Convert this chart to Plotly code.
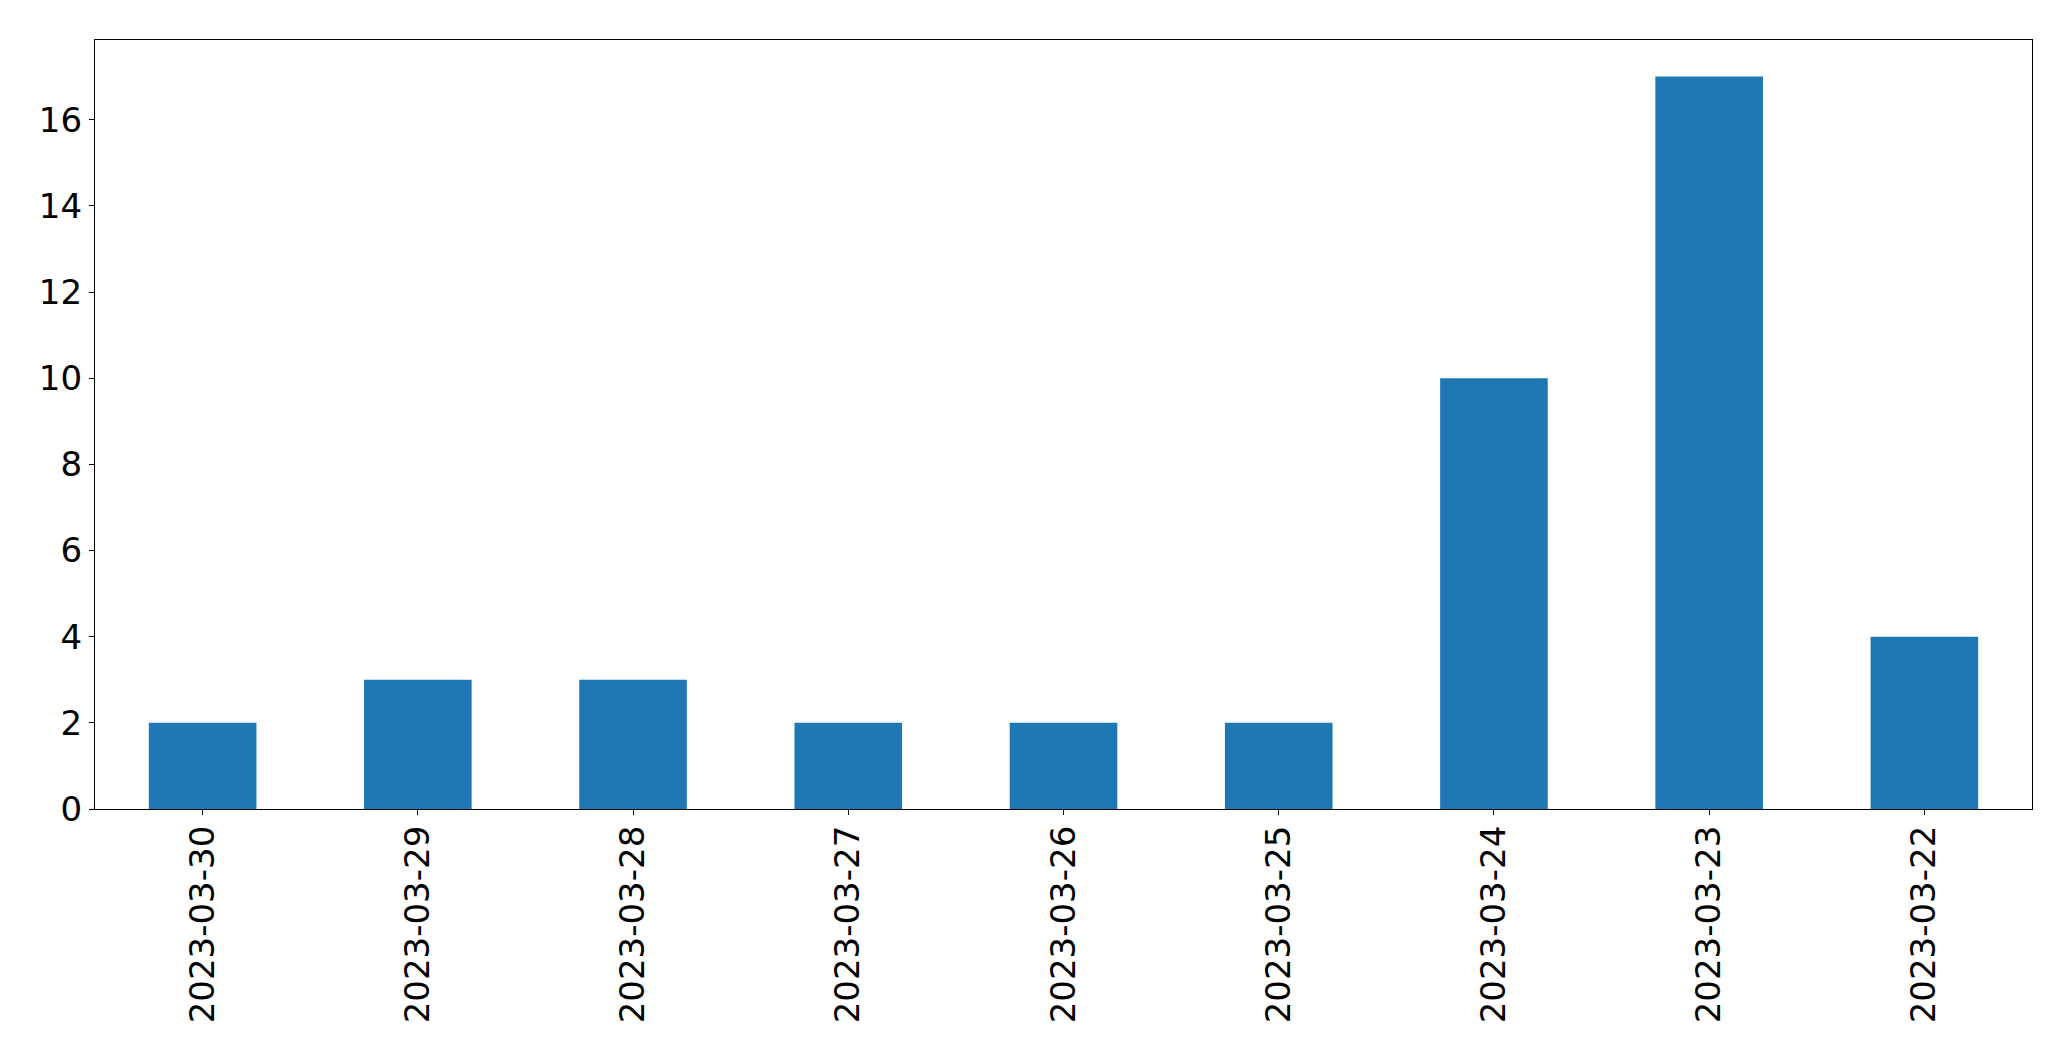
import plotly.graph_objects as go

dates = ["2023-03-30", "2023-03-29", "2023-03-28", "2023-03-27", "2023-03-26",
         "2023-03-25", "2023-03-24", "2023-03-23", "2023-03-22"]
counts = [2, 3, 3, 2, 2, 2, 10, 17, 4]
y_ticks = [0, 2, 4, 6, 8, 10, 12, 14, 16]

fig = go.Figure(go.Bar(x=dates, y=counts, marker=dict(color="#1f77b4", line=dict(width=0))))

fig.update_layout(
    width=2063, height=1053,
    margin=dict(l=87, r=39, t=32, b=252, pad=0),
    paper_bgcolor="white", plot_bgcolor="white",
    bargap=0.5,
    showlegend=False,
    font=dict(family="DejaVu Sans", size=34, color="black"),
)
fig.update_xaxes(
    type="category", categoryorder="array", categoryarray=dates,
    range=[-0.5, len(dates) - 0.5],
    tickangle=-90, ticks="outside", ticklen=5, tickwidth=1.3, tickcolor="black",
    showline=True, linecolor="black", linewidth=1.3, mirror=True,
    showgrid=False, zeroline=False, tickfont=dict(size=34),
    ticklabelstandoff=-3,
)
fig.update_yaxes(
    range=[0, 17.85], tickvals=y_ticks, ticktext=[str(v) for v in y_ticks],
    ticks="outside", ticklen=5, tickwidth=1.3, tickcolor="black",
    showline=True, linecolor="black", linewidth=1.3, mirror=True,
    showgrid=False, zeroline=False, tickfont=dict(size=34),
)

fig.write_html("out.html")
